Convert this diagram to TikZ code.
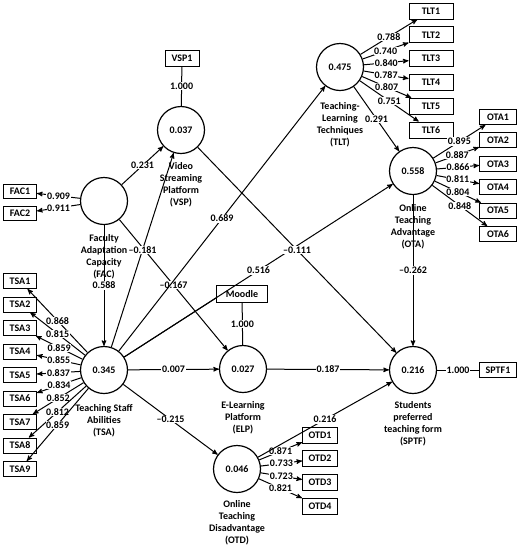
\documentclass[tikz,border=0pt]{standalone}
\usepackage{fontspec}
\setmainfont{Carlito}
\usetikzlibrary{arrows}
\usetikzlibrary{positioning}
\tikzset{
    latent/.style = {draw, circle, line width=1.2pt, minimum size=47pt, inner sep=0pt},
    ind/.style = {draw, line width=1pt, minimum width=33pt, minimum height=15pt, inner sep=1pt},
    cname/.style = {align=center, inner sep=1pt},
    coef/.style = {fill=white, inner sep=0.6pt},
}

\begin{document}
\begin{tikzpicture}[x=1pt,y=-1pt,->,>=stealth',line width=1pt,
    font=\bfseries\fontsize{10}{12}\selectfont]
\useasboundingbox (0,0) rectangle (518,550);
% constructs
\node (vsp)  [latent] at (181,130) {0.037};
\node (fac)  [latent] at (104,201) {};
\node (tsa)  [latent] at (104,370) {0.345};
\node (tlt)  [latent] at (340,67)  {0.475};
\node (ota)  [latent] at (413,171) {0.558};
\node (elp)  [latent] at (243,369) {0.027};
\node (sptf) [latent] at (413,370) {0.216};
\node (otd)  [latent] at (237,469) {0.046};
\node (vspl)  [cname,below=7pt of vsp]  {Video\\Streaming\\Platform\\(VSP)};
\node (facl)  [cname,below=8pt of fac]  {Faculty\\Adaptation\\Capacity\\(FAC)};
\node (tsal)  [cname,below=9pt of tsa]  {Teaching Staff\\Abilities\\(TSA)};
\node (tltl)  [cname,below=10pt of tlt] {Teaching-\\Learning\\Techniques\\(TLT)};
\node (otal)  [cname,below=8pt of ota]  {Online\\Teaching\\Advantage\\(OTA)};
\node (elpl)  [cname,below=7pt of elp]  {E-Learning\\Platform\\(ELP)};
\node (sptfl) [cname,below=6pt of sptf] {Students\\preferred\\teaching form\\(SPTF)};
\node (otdl)  [cname,below=6pt of otd]  {Online\\Teaching\\Disadvantage\\(OTD)};
% indicators
\node (vsp1)   [ind,minimum width=34pt,minimum height=16pt] at (182,58) {VSP1};
\node (moodle) [ind,minimum width=51pt,minimum height=17pt] at (242,294) {Moodle};
\node (sptf1)  [ind,minimum width=37pt] at (498,370) {SPTF1};
\node (fac1) [ind,minimum height=14pt] at (20,191.5) {FAC1};
\node (fac2) [ind,minimum height=14pt,below=7pt of fac1] {FAC2};
\node (tsa1) [ind] at (20,281) {TSA1};
\node (tsa2) [ind,below=7.5pt of tsa1] {TSA2};
\node (tsa3) [ind,below=7.5pt of tsa2] {TSA3};
\node (tsa4) [ind,below=7.5pt of tsa3] {TSA4};
\node (tsa5) [ind,below=7.5pt of tsa4] {TSA5};
\node (tsa6) [ind,below=7.5pt of tsa5] {TSA6};
\node (tsa7) [ind,below=7.5pt of tsa6] {TSA7};
\node (tsa8) [ind,below=7.5pt of tsa7] {TSA8};
\node (tsa9) [ind,below=7.5pt of tsa8] {TSA9};
\node (tlt1) [ind,minimum width=44pt,minimum height=16pt] at (431,11) {TLT1};
\node (tlt2) [ind,minimum width=44pt,minimum height=16pt,below=6.8pt of tlt1] {TLT2};
\node (tlt3) [ind,minimum width=44pt,minimum height=16pt,below=6.8pt of tlt2] {TLT3};
\node (tlt4) [ind,minimum width=44pt,minimum height=16pt,below=6.8pt of tlt3] {TLT4};
\node (tlt5) [ind,minimum width=44pt,minimum height=16pt,below=6.8pt of tlt4] {TLT5};
\node (tlt6) [ind,minimum width=44pt,minimum height=16pt,below=6.8pt of tlt5] {TLT6};
\node (ota1) [ind,minimum width=37pt] at (498,117) {OTA1};
\node (ota2) [ind,minimum width=37pt,below=7.4pt of ota1] {OTA2};
\node (ota3) [ind,minimum width=37pt,below=7.4pt of ota2] {OTA3};
\node (ota4) [ind,minimum width=37pt,below=7.4pt of ota3] {OTA4};
\node (ota5) [ind,minimum width=37pt,below=7.4pt of ota4] {OTA5};
\node (ota6) [ind,minimum width=37pt,below=7.4pt of ota5] {OTA6};
\node (otd1) [ind,minimum width=35pt,minimum height=16pt] at (320,435) {OTD1};
\node (otd2) [ind,minimum width=35pt,minimum height=16pt,below=6.7pt of otd1] {OTD2};
\node (otd3) [ind,minimum width=35pt,minimum height=16pt,below=6.7pt of otd2] {OTD3};
\node (otd4) [ind,minimum width=35pt,minimum height=16pt,below=6.7pt of otd3] {OTD4};
% single indicators and moderator
\draw[-] (vsp1) -- node[coef] {1.000} (vsp);
\draw[-] (moodle) -- node[coef] {1.000} (elp);
\draw[-] (sptf) -- node[coef] {1.000} (sptf1);
\draw[-] (tsa) -- ([yshift=-4pt]moodle.west);
% loadings
\draw (fac) -- node[coef] {0.909} (fac1);
\draw (fac) -- node[coef] {0.911} (fac2);
\draw (tsa) -- node[coef] {0.868} (tsa1);
\draw (tsa) -- node[coef] {0.815} (tsa2);
\draw (tsa) -- node[coef] {0.859} (tsa3);
\draw (tsa) -- node[coef] {0.855} (tsa4);
\draw (tsa) -- node[coef] {0.837} (tsa5);
\draw (tsa) -- node[coef] {0.834} (tsa6);
\draw (tsa) -- node[coef] {0.852} (tsa7);
\draw (tsa) -- node[coef] {0.812} (tsa8);
\draw (tsa) -- node[coef] {0.859} (tsa9);
\draw (tlt) -- node[coef] {0.788} (tlt1);
\draw (tlt) -- node[coef] {0.740} (tlt2);
\draw (tlt) -- node[coef] {0.840} (tlt3);
\draw (tlt) -- node[coef] {0.787} (tlt4);
\draw (tlt) -- node[coef] {0.807} (tlt5);
\draw (tlt) -- node[coef] {0.751} (tlt6);
\draw (ota) -- node[coef] {0.895} (ota1);
\draw (ota) -- node[coef] {0.887} (ota2);
\draw (ota) -- node[coef] {0.866} (ota3);
\draw (ota) -- node[coef] {0.811} (ota4);
\draw (ota) -- node[coef] {0.804} (ota5);
\draw (ota) -- node[coef] {0.848} (ota6);
\draw (otd) -- node[coef] {0.871} (otd1);
\draw (otd) -- node[coef] {0.733} (otd2);
\draw (otd) -- node[coef] {0.723} (otd3);
\draw (otd) -- node[coef] {0.821} (otd4);
% paths
\draw (fac) -- node[coef] {0.231} (vsp);
\draw (fac) -- node[coef] {0.588} (tsa);
\draw (fac) -- node[coef] {--0.167} (elp);
\draw (tsa) -- node[coef] {--0.181} (vsp);
\draw (tsa) -- node[coef] {0.689} (tlt);
\draw (tsa) -- node[coef] {0.516} (ota);
\draw (tsa) -- node[coef] {0.007} (elp);
\draw (tsa) -- node[coef] {--0.215} (otd);
\draw (tlt) -- node[coef] {0.291} (ota);
\draw (vsp) -- node[coef] {--0.111} (sptf);
\draw (ota) -- node[coef] {--0.262} (sptf);
\draw (elp) -- node[coef] {0.187} (sptf);
\draw (otd) -- node[coef] {0.216} (sptf);
\end{tikzpicture}
\end{document}
